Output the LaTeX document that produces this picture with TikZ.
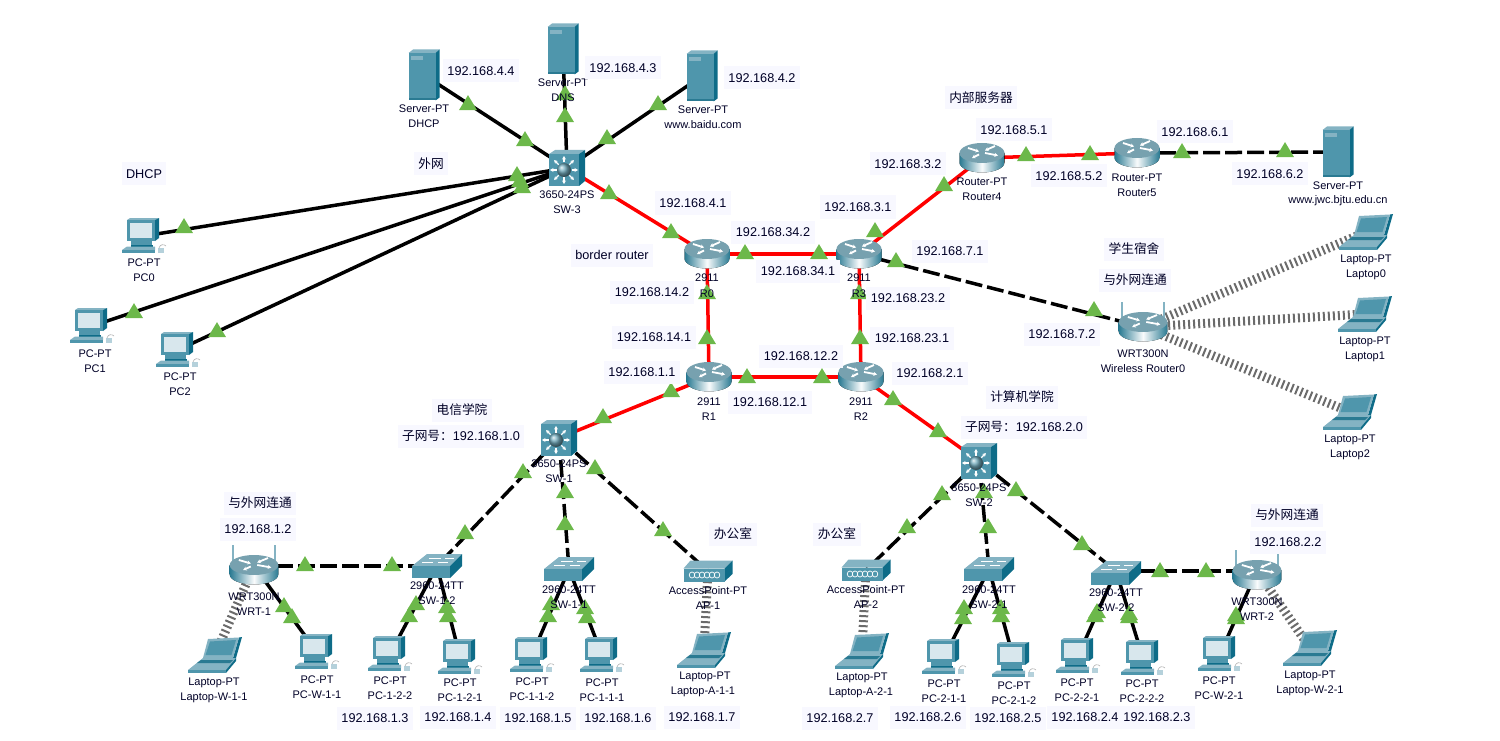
\documentclass[tikz,border=0pt]{standalone}
\usepackage{fontspec}
\setmainfont{Liberation Sans}
\newfontfamily\cjk{Noto Sans CJK SC}
\usepackage{tikz}
\usetikzlibrary{shapes.geometric,arrows.meta}

\definecolor{tealfront}{HTML}{4F96AC}
\definecolor{tealtop}{HTML}{84B3C3}
\definecolor{tealside}{HTML}{0E6C88}
\definecolor{tealdark}{HTML}{2A7A92}
\definecolor{tealpale}{HTML}{D8E7ED}
\definecolor{tagfill}{HTML}{F8F8FF}
\definecolor{lampgreen}{HTML}{6CB84A}

\tikzset{
  hub/.style={inner sep=0pt, minimum size=0pt},
  cable/.style={line width=3.5pt, black},
  serial/.style={line width=3.5pt, red},
  crossed/.style={line width=3.5pt, black, dash pattern=on 17pt off 5pt},
  radio/.style={line width=9pt, black!58, dash pattern=on 2pt off 3pt},
  lamp/.style={isosceles triangle, shape border rotate=90, isosceles triangle apex angle=62,
    minimum height=15pt, inner sep=0pt, fill=lampgreen},
  devtext/.style={font=\fontsize{11pt}{12pt}\selectfont, inner sep=0pt, text=black!85!blue},
  iptag/.style={font=\fontsize{12.7pt}{14pt}\selectfont, fill=tagfill, inner xsep=4.5pt,
    inner ysep=0pt, minimum height=23pt, text=black!85!blue},
  mark/.tip={Stealth[length=3.5pt,width=4pt]},
  pics/router/.style={code={
    \fill[left color=tealdark, right color=tealdark, middle color=white!85!tealpale]
      (-22.5,-5) -- (-22.5,4.5) arc[start angle=180, end angle=0, x radius=22.5, y radius=10]
      -- (22.5,-5) -- cycle;
    \fill[tealtop!90!black] (0,-5) ellipse [x radius=22.5, y radius=10];
    \draw[white, line width=1.8pt, -mark] (-14,-10) -- (-3,-6.5);
    \draw[white, line width=1.8pt, -mark] (13,-12) -- (3,-7.5);
    \draw[white, line width=1.8pt, -mark] (-3,-3.5) -- (-10,0);
    \draw[white, line width=1.8pt, -mark] (3,-5) -- (16,-2.5);
  }},
  pics/wrt/.style={code={
    \draw[tealtop, line width=2pt] (-21,-6) -- (-21,-25) (21,-6) -- (21,-25);
    \pic[xscale=1.08] at (0,0) {router};
  }},
  pics/multilayer/.style={code={
    \fill[tealtop] (-18,-14) -- (-12,-18) -- (18,-18) -- (12,-14) -- cycle;
    \fill[tealside] (12,-14) -- (18,-18) -- (18,13) -- (12,18) -- cycle;
    \fill[tealfront] (-18,-14) rectangle (12,18);
    \foreach \a in {0,45,...,315}
      \draw[white, line width=1.1pt, -mark] (-3,2) ++(\a:7.5) -- ++(\a:6.5);
    \shade[ball color=tealfront!80!white] (-3,2) circle (7);
  }},
  pics/switchbox/.style={code={
    \fill[tealtop] (-25,0) -- (-10,-12) -- (25,-12) -- (13,0) -- cycle;
    \fill[tealside] (13,0) -- (25,-12) -- (25,0) -- (13,12) -- cycle;
    \fill[tealfront] (-25,0) rectangle (13,12);
    \draw[white, line width=0.8pt] (-8,-8) -- (4,-8) (8,-8) -- (17,-8) (-15,-4) -- (-4,-4) (1,-4) -- (11,-4);
  }},
  pics/server/.style={code={
    \fill[tealtop] (-15.5,-22) -- (-11,-25.5) -- (15.5,-25.5) -- (11.5,-22) -- cycle;
    \fill[tealside] (11.5,-22) -- (15.5,-25.5) -- (15.5,22.5) -- (11.5,25.5) -- cycle;
    \fill[tealfront] (-15.5,-22) rectangle (11.5,25.5);
    \fill[tealtop] (-13,-19) rectangle (-1,-15);
    \fill[tealdark] (-15.5,23) rectangle (11.5,25.5);
  }},
  pics/pc/.style={code={
    \fill[tealtop] (-17,-16) -- (-14,-18) -- (15,-18) -- (11,-16) -- cycle;
    \fill[tealside] (11,-16) -- (15,-18) -- (15,2) -- (11,5) -- cycle;
    \fill[tealfront] (-17,-16) rectangle (11,5);
    \fill[tealpale] (-14.5,-13) rectangle (8,2);
    \fill[tealfront] (-13,5) rectangle (8,9);
    \fill[tealside] (-13,9) rectangle (9,10.5);
    \fill[tealtop] (-17,10.5) -- (11,10.5) -- (11,14) -- (-22,14) -- cycle;
    \fill[tealfront] (-22,14) rectangle (11,17);
    \fill[tealtop!60!white] (14,12) rectangle (20,17);
    \draw[gray!60, line width=0.6pt] (15,12) .. controls (16,8) and (20,8) .. (22,10);
  }},
  pics/laptop/.style={code={
    \fill[tealside] (24,-17.5) -- (27,-18) -- (21,3) -- (18,3) -- cycle;
    \fill[tealtop] (-7,-16) -- (24,-17.5) -- (18,3) -- (-12,3) -- cycle;
    \fill[tealfront] (-5,-13.5) -- (21,-15) -- (16.5,0) -- (-9.5,0) -- cycle;
    \fill[tealtop] (-27,15) -- (-12,3) -- (21,3) -- (11,15) -- cycle;
    \fill[tealdark] (-18,8) -- (15,8) -- (18,5) -- (-14,5) -- cycle;
    \fill[tealfront] (-27,15) rectangle (11,18);
    \fill[tealside] (11,15) -- (21,3) -- (21,6) -- (11,18) -- cycle;
  }},
  pics/accesspoint/.style={code={
    \fill[tealtop] (-24.5,-2.5) -- (-17.5,-10.5) -- (24.5,-10.5) -- (16.5,-2.5) -- cycle;
    \fill[tealside] (16.5,-2.5) -- (24.5,-10.5) -- (24.5,3) -- (16.5,10.5) -- cycle;
    \fill[tealfront] (-24.5,-2.5) rectangle (16.5,10.5);
    \foreach \x in {-16,-11,...,9}
      \draw[white, line width=0.7pt] (\x,4) ellipse [x radius=2.8, y radius=3];
  }}
}

\begin{document}
\begin{tikzpicture}[x=1pt,y=-1pt]

\useasboundingbox (0,0) rectangle (1500,741);

%% devices
\node[hub] (SVdhcp) at (424,75) {};
\node[hub] (SVdns) at (563,49) {};
\node[hub] (SVbaidu) at (702,76) {};
\node[hub] (SW3) at (567,168) {};
\node[hub] (PC0) at (144,236) {};
\node[hub] (PC1) at (92,326) {};
\node[hub] (PC2) at (178,350) {};
\node[hub] (R0) at (707,254) {};
\node[hub] (R3) at (859,254) {};
\node[hub] (R1) at (709,377) {};
\node[hub] (R2) at (861,377) {};
\node[hub] (R4) at (982,158) {};
\node[hub] (R5) at (1137,153) {};
\node[hub] (SVjwc) at (1338,152) {};
\node[hub] (WR0) at (1143,327) {};
\node[hub] (LT0) at (1366,232) {};
\node[hub] (LT1) at (1365,314) {};
\node[hub] (LT2) at (1350,412) {};
\node[hub] (SW1) at (559,438) {};
\node[hub] (SW2) at (979,461) {};
\node[hub] (SW12) at (437,566) {};
\node[hub] (SW11) at (569,569) {};
\node[hub] (SW21) at (989,569) {};
\node[hub] (SW22) at (1116,571) {};
\node[hub] (AP1) at (708,571) {};
\node[hub] (AP2) at (866,570) {};
\node[hub] (WRT1) at (254,566) {};
\node[hub] (WRT2) at (1257,571) {};
\node[hub] (LTw11) at (215,655) {};
\node[hub] (PCw11) at (317,652) {};
\node[hub] (PC122) at (390,654) {};
\node[hub] (PC121) at (460,657) {};
\node[hub] (PC112) at (532,655) {};
\node[hub] (PC111) at (602,655) {};
\node[hub] (LTa11) at (704,650) {};
\node[hub] (LTa21) at (862,651) {};
\node[hub] (PC211) at (944,657) {};
\node[hub] (PC212) at (1014,660) {};
\node[hub] (PC221) at (1078,656) {};
\node[hub] (PC222) at (1143,658) {};
\node[hub] (PCw21) at (1220,654) {};
\node[hub] (LTw21) at (1310,648) {};

%% links
\draw[radio] (WR0) -- (LT0);
\draw[radio] (WR0) -- (LT1);
\draw[radio] (WR0) -- (LT2);
\draw[radio] (WRT1) -- (LTw11);
\draw[radio] (WRT2) -- (LTw21);
\draw[radio] (AP1) -- (LTa11);
\draw[radio] (AP2) -- (LTa21);
\draw[cable] (SW3) -- (SVdhcp);
\draw[cable] (SW3) -- (SVdns);
\draw[cable] (SW3) -- (SVbaidu);
\draw[cable] (SW3) -- (PC0);
\draw[cable] (SW3) -- (PC1);
\draw[cable] (SW3) -- (PC2);
\draw[cable] (WRT1) -- (PCw11);
\draw[cable] (SW12) -- (PC122);
\draw[cable] (SW12) -- (PC121);
\draw[cable] (SW11) -- (PC112);
\draw[cable] (SW11) -- (PC111);
\draw[cable] (SW21) -- (PC211);
\draw[cable] (SW21) -- (PC212);
\draw[cable] (SW22) -- (PC221);
\draw[cable] (SW22) -- (PC222);
\draw[cable] (WRT2) -- (PCw21);
\draw[serial] (SW3) -- (R0);
\draw[serial] (R0) -- (R3);
\draw[serial] (R0) -- (R1);
\draw[serial] (R3) -- (R2);
\draw[serial] (R1) -- (R2);
\draw[serial] (R3) -- (R4);
\draw[serial] (R4) -- (R5);
\draw[serial] (R1) -- (SW1);
\draw[serial] (R2) -- (SW2);
\draw[crossed] (R5) -- (SVjwc);
\draw[crossed] (R3) -- (WR0);
\draw[crossed] (SW1) -- (SW12);
\draw[crossed] (SW1) -- (SW11);
\draw[crossed] (SW1) -- (AP1);
\draw[crossed] (WRT1) -- (SW12);
\draw[crossed] (SW2) -- (AP2);
\draw[crossed] (SW2) -- (SW21);
\draw[crossed] (SW2) -- (SW22);
\draw[crossed] (SW22) -- (WRT2);

%% link lights
\foreach \x/\y [count=\i] in {
  468/105, 525/141, 565/95, 565/117, 658/105, 607/139, 609/194, 671/233,
  184/228, 517/176, 134/313, 520/182, 217/332, 522/188,
  745/254, 819/254, 707/294, 707/339, 859/294, 860/339, 747/378, 822/378,
  875/232, 944/186, 1026/156, 1090/155, 1182/153, 1285/152, 896/262, 1094/311,
  671/392, 603/418, 893/400, 938/432, 523/473, 465/534, 565/493, 565/525,
  595/469, 663/531, 305/566, 392/566, 416/605, 409/617, 447/608, 448/617,
  284/607, 292/618, 551/605, 548/617, 585/609, 587/618,
  942/495, 907/528, 984/493, 988/528, 1016/491, 1082/545,
  964/609, 963/619, 1001/609, 1001/617, 1097/613, 1095/617, 1129/615, 1129/618,
  1160/572, 1206/572, 1236/616, 1236/619}
  \node[lamp] (lamp\i) at (\x,\y) {};

%% device icons
\pic at (SVdhcp) {server};
\pic at (SVdns) {server};
\pic at (SVbaidu) {server};
\pic at (SVjwc) {server};
\pic at (SW3) {multilayer};
\pic at (SW1) {multilayer};
\pic at (SW2) {multilayer};
\pic at (R0) {router};
\pic at (R1) {router};
\pic at (R2) {router};
\pic at (R3) {router};
\pic at (R4) {router};
\pic at (R5) {router};
\pic at (WR0) {wrt};
\pic[yshift=-4pt] at (WRT1) {wrt};
\pic[yshift=-4pt] at (WRT2) {wrt};
\pic at (SW11) {switchbox};
\pic at (SW12) {switchbox};
\pic at (SW21) {switchbox};
\pic[yshift=-2pt] at (SW22) {switchbox};
\pic at (AP1) {accesspoint};
\pic at (AP2) {accesspoint};
\pic at (PC0) {pc};
\pic at (PC1) {pc};
\pic at (PC2) {pc};
\pic at (PCw11) {pc};
\pic at (PC122) {pc};
\pic at (PC121) {pc};
\pic at (PC112) {pc};
\pic at (PC111) {pc};
\pic at (PC211) {pc};
\pic at (PC212) {pc};
\pic at (PC221) {pc};
\pic at (PC222) {pc};
\pic at (PCw21) {pc};
\pic at (LT0) {laptop};
\pic at (LT1) {laptop};
\pic at (LT2) {laptop};
\pic at (LTw11) {laptop};
\pic at (LTa11) {laptop};
\pic at (LTa21) {laptop};
\pic at (LTw21) {laptop};

%% device labels
\node[devtext] (SVdhcpa) at (424,109) {Server-PT};
\node[devtext] (SVdhcpb) at (424,124) {DHCP};
\node[devtext] (SVdnsa) at (563,83) {Server-PT};
\node[devtext] (SVdnsb) at (563,98) {DNS};
\node[devtext] (SVbaidua) at (703,110) {Server-PT};
\node[devtext] (SVbaidub) at (703,125) {www.baidu.com};
\node[devtext] (SW3a) at (567,195) {3650-24PS};
\node[devtext] (SW3b) at (567,210) {SW-3};
\node[devtext] (PC0a) at (144,263) {PC-PT};
\node[devtext] (PC0b) at (144,278) {PC0};
\node[devtext] (PC1a) at (95,354) {PC-PT};
\node[devtext] (PC1b) at (95,369) {PC1};
\node[devtext] (PC2a) at (180,377) {PC-PT};
\node[devtext] (PC2b) at (180,392) {PC2};
\node[devtext] (R0a) at (707,278) {2911};
\node[devtext] (R0b) at (707,294) {R0};
\node[devtext] (R3a) at (859,278) {2911};
\node[devtext] (R3b) at (859,294) {R3};
\node[devtext] (R1a) at (709,402) {2911};
\node[devtext] (R1b) at (709,417) {R1};
\node[devtext] (R2a) at (861,402) {2911};
\node[devtext] (R2b) at (861,417) {R2};
\node[devtext] (R4a) at (982,182) {Router-PT};
\node[devtext] (R4b) at (982,197) {Router4};
\node[devtext] (R5a) at (1137,178) {Router-PT};
\node[devtext] (R5b) at (1137,193) {Router5};
\node[devtext] (SVjwca) at (1338,186) {Server-PT};
\node[devtext] (SVjwcb) at (1338,201) {www.jwc.bjtu.edu.cn};
\node[devtext] (WR0a) at (1143,354) {WRT300N};
\node[devtext] (WR0b) at (1143,369) {Wireless Router0};
\node[devtext] (LT0a) at (1366,260) {Laptop-PT};
\node[devtext] (LT0b) at (1366,275) {Laptop0};
\node[devtext] (LT1a) at (1365,342) {Laptop-PT};
\node[devtext] (LT1b) at (1365,357) {Laptop1};
\node[devtext] (LT2a) at (1350,440) {Laptop-PT};
\node[devtext] (LT2b) at (1350,455) {Laptop2};
\node[devtext] (SW1a) at (559,464) {3650-24PS};
\node[devtext] (SW1b) at (559,479) {SW-1};
\node[devtext] (SW2a) at (979,488) {3650-24PS};
\node[devtext] (SW2b) at (979,503) {SW-2};
\node[devtext] (SW12a) at (437,586) {2960-24TT};
\node[devtext] (SW12b) at (437,601) {SW-1-2};
\node[devtext] (SW11a) at (569,590) {2960-24TT};
\node[devtext] (SW11b) at (569,605) {SW-1-1};
\node[devtext] (SW21a) at (989,590) {2960-24TT};
\node[devtext] (SW21b) at (989,605) {SW-2-1};
\node[devtext] (SW22a) at (1116,593) {2960-24TT};
\node[devtext] (SW22b) at (1116,608) {SW-2-2};
\node[devtext] (AP1a) at (708,591) {AccessPoint-PT};
\node[devtext] (AP1b) at (708,606) {AP-1};
\node[devtext] (AP2a) at (866,590) {AccessPoint-PT};
\node[devtext] (AP2b) at (866,605) {AP-2};
\node[devtext] (WRT1a) at (254,597) {WRT300N};
\node[devtext] (WRT1b) at (254,612) {WRT-1};
\node[devtext] (WRT2a) at (1257,602) {WRT300N};
\node[devtext] (WRT2b) at (1257,617) {WRT-2};
\node[devtext] (LTw11a) at (214,683) {Laptop-PT};
\node[devtext] (LTw11b) at (214,698) {Laptop-W-1-1};
\node[devtext] (PCw11a) at (317,680) {PC-PT};
\node[devtext] (PCw11b) at (317,695) {PC-W-1-1};
\node[devtext] (PC122a) at (390,681) {PC-PT};
\node[devtext] (PC122b) at (390,696) {PC-1-2-2};
\node[devtext] (PC121a) at (460,683) {PC-PT};
\node[devtext] (PC121b) at (460,698) {PC-1-2-1};
\node[devtext] (PC112a) at (532,682) {PC-PT};
\node[devtext] (PC112b) at (532,697) {PC-1-1-2};
\node[devtext] (PC111a) at (602,683) {PC-PT};
\node[devtext] (PC111b) at (602,698) {PC-1-1-1};
\node[devtext] (LTa11a) at (705,677) {Laptop-PT};
\node[devtext] (LTa11b) at (703,692) {Laptop-A-1-1};
\node[devtext] (LTa21a) at (862,678) {Laptop-PT};
\node[devtext] (LTa21b) at (861,693) {Laptop-A-2-1};
\node[devtext] (PC211a) at (944,684) {PC-PT};
\node[devtext] (PC211b) at (944,699) {PC-2-1-1};
\node[devtext] (PC212a) at (1014,686) {PC-PT};
\node[devtext] (PC212b) at (1014,701) {PC-2-1-2};
\node[devtext] (PC221a) at (1077,683) {PC-PT};
\node[devtext] (PC221b) at (1077,698) {PC-2-2-1};
\node[devtext] (PC222a) at (1142,684) {PC-PT};
\node[devtext] (PC222b) at (1142,699) {PC-2-2-2};
\node[devtext] (PCw21a) at (1219,681) {PC-PT};
\node[devtext] (PCw21b) at (1219,696) {PC-W-2-1};
\node[devtext] (LTw21a) at (1310,676) {Laptop-PT};
\node[devtext] (LTw21b) at (1310,691) {Laptop-W-2-1};

%% address tags
\node[iptag] (tag44) at (481,71) {192.168.4.4};
\node[iptag] (tag43) at (623,68) {192.168.4.3};
\node[iptag] (tag42) at (762,78) {192.168.4.2};
\node[iptag] (tag41) at (693,203) {192.168.4.1};
\node[iptag] (tag51) at (1014,130) {192.168.5.1};
\node[iptag] (tag52) at (1069,176) {192.168.5.2};
\node[iptag] (tag61) at (1195,132) {192.168.6.1};
\node[iptag] (tag62) at (1270,174) {192.168.6.2};
\node[iptag] (tag32) at (908,164) {192.168.3.2};
\node[iptag] (tag31) at (858,207) {192.168.3.1};
\node[iptag] (tag342) at (773,232) {192.168.34.2};
\node[iptag] (tag341) at (798,271) {192.168.34.1};
\node[iptag] (tag71) at (950,251) {192.168.7.1};
\node[iptag] (tag72) at (1062,334) {192.168.7.2};
\node[iptag] (tag142) at (652,292) {192.168.14.2};
\node[iptag] (tag141) at (654,337) {192.168.14.1};
\node[iptag] (tag232) at (908,298) {192.168.23.2};
\node[iptag] (tag231) at (912,338) {192.168.23.1};
\node[iptag] (tag122) at (801,356) {192.168.12.2};
\node[iptag] (tag121) at (770,402) {192.168.12.1};
\node[iptag] (tag11) at (642,372) {192.168.1.1};
\node[iptag] (tag21) at (930,373) {192.168.2.1};
\node[iptag] (tag12) at (258,529) {192.168.1.2};
\node[iptag] (tag22) at (1288,542) {192.168.2.2};
\node[iptag] (tag13) at (375,718) {192.168.1.3};
\node[iptag] (tag14) at (458,717) {192.168.1.4};
\node[iptag] (tag15) at (538,718) {192.168.1.5};
\node[iptag] (tag16) at (618,718) {192.168.1.6};
\node[iptag] (tag17) at (702,717) {192.168.1.7};
\node[iptag] (tag27) at (840,718) {192.168.2.7};
\node[iptag] (tag26) at (928,717) {192.168.2.6};
\node[iptag] (tag25) at (1008,718) {192.168.2.5};
\node[iptag] (tag24) at (1085,717) {192.168.2.4};
\node[iptag] (tag23) at (1157,717) {192.168.2.3};

%% area tags
\node[iptag] (tagdhcp) at (144,174) {DHCP};
\node[iptag] (tagborder) at (612,255) {border router};
\node[iptag] (tagout) at (431,164) {\cjk 外网};
\node[iptag] (tagserv) at (981,98) {\cjk 内部服务器};
\node[iptag] (tagdorm) at (1134,249) {\cjk 学生宿舍};
\node[iptag] (taglinka) at (1135,280) {\cjk 与外网连通};
\node[iptag] (taglinkb) at (260,503) {\cjk 与外网连通};
\node[iptag] (taglinkc) at (1287,515) {\cjk 与外网连通};
\node[iptag] (tagcs) at (1022,397) {\cjk 计算机学院};
\node[iptag] (tagee) at (462,410) {\cjk 电信学院};
\node[iptag] (tagnetb) at (1024,427) {{\cjk 子网号：}192.168.2.0};
\node[iptag] (tagneta) at (461,436) {{\cjk 子网号：}192.168.1.0};
\node[iptag] (tagoffa) at (733,534) {\cjk 办公室};
\node[iptag] (tagoffb) at (837,534) {\cjk 办公室};

\end{tikzpicture}
\end{document}
